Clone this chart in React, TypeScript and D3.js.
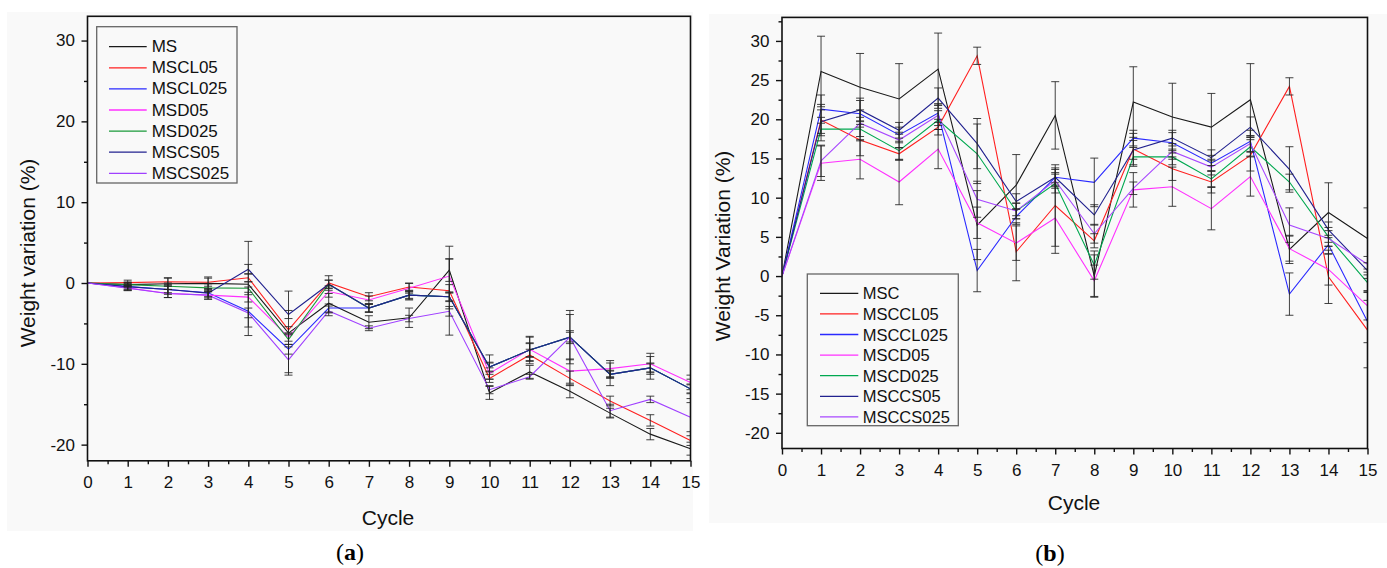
import * as d3 from "d3";
import { useEffect, useRef } from "react";

// cycles on the x axis
const cycles = [0, 1, 2, 3, 4, 5, 6, 7, 8, 9, 10, 11, 12, 13, 14, 15];

// ---- panel (a) ----
const namesA = ["MS", "MSCL05", "MSCL025", "MSD05", "MSD025", "MSCS05", "MSCS025"];
const colorsA = ["#1a1a1a", "#ff2020", "#2a2aff", "#ff30ff", "#1a9a3a", "#22228f", "#a040ff"];

const msA = [0, -0.2, -0.1, -0.05, -0.15, -6.2, -2.5, -4.85, -4.3, 1.6, -13.6, -11.0, -13.4, -16.1, -18.7, -20.5];
const mscl05A = [0, 0.05, 0.15, 0.1, 0.65, -5.8, 0, -1.7, -0.5, -0.95, -11.8, -8.9, -11.8, -14.6, -17.0, -19.5];
const mscl025A = [0, -0.45, -0.8, -1.2, -3.5, -8.2, -3.1, -3.1, -1.5, -1.7, -10.4, -8.3, -6.7, -11.3, -10.5, -13.1];
const msd05A = [0, -0.6, -1.3, -1.5, -1.75, -6.7, -1.05, -2.1, -0.66, 0.86, -11.2, -8.2, -10.9, -10.6, -10.0, -12.3];
const msd025A = [0, -0.2, -0.4, -0.6, -0.65, -7.0, -0.15, -3.1, -1.5, -1.7, -10.4, -8.3, -6.7, -11.3, -10.5, -13.1];
const mscs05A = [0, -0.45, -0.8, -1.25, 1.7, -3.9, -0.15, -3.1, -1.5, -1.7, -10.4, -8.3, -6.7, -11.3, -10.5, -13.1];
const mscs025A = [0, -0.65, -1.3, -1.5, -3.7, -9.5, -3.45, -5.6, -4.4, -3.5, -13.2, -11.6, -6.7, -15.8, -14.4, -16.6];

const msErrA = [0, 0.3, 0.7, 0.8, 5.3, 5.2, 1.2, 0.8, 1.2, 1.4, 0.8, 0.8, 0.8, 0.6, 0.7, 0.8];
const mscl05ErrA = [0, 0.3, 0.5, 0.5, 0.5, 0.4, 0.9, 0.5, 0.5, 5.5, 0.5, 0.7, 0.9, 0.6, 0.7, 0.6];
const mscl025ErrA = [0, 0.4, 0.6, 0.5, 3.0, 0.6, 0.5, 0.5, 0.4, 0.5, 0.5, 0.8, 0.6, 0.4, 0.5, 0.5];
const msd05ErrA = [0, 0.3, 0.5, 0.5, 0.6, 0.5, 0.7, 0.5, 0.6, 2.1, 0.7, 1.5, 1.5, 1.0, 1.3, 0.9];
const msd025ErrA = [0, 0.3, 0.4, 0.5, 0.8, 0.6, 0.5, 0.5, 0.5, 0.6, 0.6, 0.9, 0.8, 0.5, 0.6, 0.6];
const mscs05ErrA = [0, 0.3, 0.4, 0.5, 0.6, 0.5, 0.5, 0.5, 0.6, 1.5, 1.5, 1.7, 2.8, 1.4, 1.4, 1.2];
const mscs025ErrA = [0, 0.3, 0.5, 0.5, 0.6, 1.6, 0.6, 0.3, 0.4, 0.6, 0.5, 0.3, 3.3, 0.8, 0.4, 1.8];

// ---- panel (b) ----
const namesB = ["MSC", "MSCCL05", "MSCCL025", "MSCD05", "MSCD025", "MSCCS05", "MSCCS025"];
const colorsB = ["#1a1a1a", "#ff2020", "#2a2aff", "#ff30ff", "#00a850", "#22228f", "#a848ff"];

const mscB = [0, 26.1, 24.1, 22.6, 26.4, 6.5, 11.6, 20.5, 0.0, 22.2, 20.3, 19.0, 22.5, 3.4, 8.1, 4.8];
const msccl05B = [0, 19.9, 17.35, 15.6, 19.0, 28.1, 3.1, 9.0, 4.5, 16.2, 13.7, 12.0, 15.4, 24.2, -0.1, -6.9];
const msccl025B = [0, 21.3, 20.7, 18.0, 20.8, 0.7, 7.6, 12.6, 11.95, 17.6, 17.0, 14.4, 17.2, -2.3, 4.0, -5.8];
const mscd05B = [0, 14.4, 14.9, 12.0, 16.2, 6.8, 4.2, 7.4, -0.6, 11.0, 11.4, 8.6, 12.7, 3.5, 0.85, -3.8];
const mscd025B = [0, 18.75, 18.75, 16.0, 19.9, 15.6, 8.3, 11.8, 1.4, 15.2, 15.2, 12.4, 16.5, 12.0, 5.0, -0.85];
const msccs05B = [0, 19.7, 21.2, 18.6, 22.7, 16.9, 9.5, 12.6, 7.8, 16.1, 17.6, 15.1, 19.0, 13.6, 5.9, 0.7];
const msccs025B = [0, 14.7, 19.5, 17.35, 20.5, 9.8, 8.3, 12.2, 5.4, 11.2, 15.9, 13.9, 16.9, 6.5, 4.8, 1.5];

const mscErrB = [0, 4.5, 4.3, 4.5, 4.6, 4.4, 3.9, 4.3, 2.7, 4.5, 4.3, 4.3, 4.6, 1.8, 3.8, 3.9];
const msccl05ErrB = [0, 2.0, 2.0, 0.8, 1.0, 1.1, 3.7, 5.2, 0.9, 2.0, 1.5, 1.4, 2.0, 1.1, 3.4, 4.8];
const msccl025ErrB = [0, 1.8, 1.7, 1.0, 1.2, 2.7, 1.0, 1.0, 3.1, 1.0, 1.3, 1.0, 1.4, 2.7, 1.2, 2.7];
const mscd05ErrB = [0, 2.2, 2.5, 2.9, 2.5, 2.0, 2.2, 4.5, 2.0, 2.2, 2.5, 2.7, 2.5, 1.6, 2.0, 1.8];
const mscd025ErrB = [0, 1.5, 1.5, 1.2, 1.2, 3.8, 1.0, 1.2, 1.8, 1.2, 1.0, 1.0, 1.2, 1.0, 1.2, 1.0];
const msccs05ErrB = [0, 1.5, 1.5, 1.0, 1.3, 3.2, 1.0, 1.2, 1.3, 1.2, 1.0, 1.0, 1.3, 2.9, 1.0, 1.0];
const msccs025ErrB = [0, 2.0, 1.7, 1.0, 1.3, 2.3, 1.0, 1.0, 1.2, 0.8, 1.0, 1.0, 1.0, 2.2, 1.0, 1.0];

const yTicksA = [-20, -10, 0, 10, 20, 30];
const yTicksB = [-20, -15, -10, -5, 0, 5, 10, 15, 20, 25, 30];

const valuesA = [msA, mscl05A, mscl025A, msd05A, msd025A, mscs05A, mscs025A];
const errorsA = [msErrA, mscl05ErrA, mscl025ErrA, msd05ErrA, msd025ErrA, mscs05ErrA, mscs025ErrA];
const valuesB = [mscB, msccl05B, msccl025B, mscd05B, mscd025B, msccs05B, msccs025B];
const errorsB = [mscErrB, msccl05ErrB, msccl025ErrB, mscd05ErrB, mscd025ErrB, msccs05ErrB, msccs025ErrB];

const FONT = "'Liberation Sans', Arial, sans-serif";

const panels = [
    {
        id: "a",
        names: namesA, colors: colorsA, values: valuesA, errors: errorsA,
        yTicks: yTicksA, yMinorStep: 5,
        bg: { x: 7, y: 12, w: 686, h: 519 },
        plot: { left: 87.5, right: 690.5, top: 16.3, bottom: 460.8 },
        yTitle: "Weight variation (%)", yTitlePos: [27, 253],
        xTitlePos: [388, 517],
        tag: "a", tagPos: [350, 552],
        legend: { x: 96.7, y: 26.7, w: 140.3, h: 156.3, y0: 46.7, step: 21.1, lx0: 109, lx1: 146.7, tx: 151.7, fs: 17 },
    },
    {
        id: "b",
        names: namesB, colors: colorsB, values: valuesB, errors: errorsB,
        yTicks: yTicksB, yMinorStep: 2.5,
        bg: { x: 709, y: 14, w: 678, h: 509 },
        plot: { left: 782, right: 1367.5, top: 17.4, bottom: 448.5 },
        yTitle: "Weight Variation (%)", yTitlePos: [722, 246],
        xTitlePos: [1074, 502],
        tag: "b", tagPos: [1050, 553],
        legend: { x: 807.3, y: 274, w: 151, h: 151.7, y0: 293.3, step: 20.6, lx0: 820, lx1: 858.3, tx: 862.7, fs: 16.5 },
    },
];

const drawPanel = (svg, p) => {
    const g = svg.append("g");

    g.append("rect")
        .attr("x", p.bg.x).attr("y", p.bg.y)
        .attr("width", p.bg.w).attr("height", p.bg.h)
        .attr("fill", "#f9f9f9");

    const x = d3.scaleLinear().domain([0, 15]).range([p.plot.left, p.plot.right]);
    const y = d3.scaleLinear().domain([-22, 33]).range([p.plot.bottom, p.plot.top]);

    const clipId = "clip-" + p.id;
    svg.append("clipPath").attr("id", clipId)
        .append("rect")
        .attr("x", p.plot.left).attr("y", p.plot.top)
        .attr("width", p.plot.right - p.plot.left)
        .attr("height", p.plot.bottom - p.plot.top);

    const plotG = g.append("g").attr("clip-path", `url(#${clipId})`);

    const line = d3.line()
        .x((d, i) => x(cycles[i]))
        .y(d => y(d));

    p.values.forEach((vals, k) => {
        plotG.append("path")
            .datum(vals)
            .attr("d", line)
            .attr("fill", "none")
            .attr("stroke", p.colors[k])
            .attr("stroke-width", 1.1);
    });

    // error bars
    const cap = 4;
    p.values.forEach((vals, k) => {
        const errs = p.errors[k];
        const eg = plotG.append("g")
            .attr("stroke", "#222")
            .attr("stroke-width", 1)
            .attr("stroke-opacity", 0.85);
        vals.forEach((v, i) => {
            const e = errs[i];
            if (!e) return;
            const cx = x(cycles[i]);
            eg.append("line").attr("x1", cx).attr("x2", cx).attr("y1", y(v - e)).attr("y2", y(v + e));
            eg.append("line").attr("x1", cx - cap).attr("x2", cx + cap).attr("y1", y(v + e)).attr("y2", y(v + e));
            eg.append("line").attr("x1", cx - cap).attr("x2", cx + cap).attr("y1", y(v - e)).attr("y2", y(v - e));
        });
    });

    // axes
    const plain = d => String(d);
    const yMinor = d3.range(-20, 33, p.yMinorStep).filter(t => !p.yTicks.includes(t));
    const yAxis = g.append("g")
        .attr("transform", `translate(${p.plot.left},0)`)
        .call(d3.axisLeft(y).tickValues(p.yTicks).tickSize(6).tickPadding(6.5).tickFormat(plain));
    const yAxisMinor = g.append("g")
        .attr("transform", `translate(${p.plot.left},0)`)
        .call(d3.axisLeft(y).tickValues(yMinor).tickSize(3.5).tickFormat(() => ""));

    const xMinor = d3.range(0.5, 15, 1);
    const xAxis = g.append("g")
        .attr("transform", `translate(0,${p.plot.bottom})`)
        .call(d3.axisBottom(x).tickValues(cycles).tickSize(6).tickPadding(9).tickFormat(plain));
    const xAxisMinor = g.append("g")
        .attr("transform", `translate(0,${p.plot.bottom})`)
        .call(d3.axisBottom(x).tickValues(xMinor).tickSize(3.5).tickFormat(() => ""));

    [yAxis, yAxisMinor, xAxis, xAxisMinor].forEach(a => {
        a.select(".domain").remove();
        a.selectAll(".tick line").attr("stroke", "#111").attr("stroke-width", 1.4);
        a.selectAll(".tick text")
            .attr("fill", "#111")
            .style("font-family", FONT)
            .style("font-size", "17px");
    });

    g.append("rect")
        .attr("x", p.plot.left).attr("y", p.plot.top)
        .attr("width", p.plot.right - p.plot.left)
        .attr("height", p.plot.bottom - p.plot.top)
        .attr("fill", "none")
        .attr("stroke", "#111")
        .attr("stroke-width", 1.6);

    // titles
    g.append("text")
        .attr("transform", `translate(${p.yTitlePos[0]},${p.yTitlePos[1]}) rotate(-90)`)
        .attr("text-anchor", "middle")
        .attr("dominant-baseline", "central")
        .style("font-family", FONT)
        .style("font-size", "21px")
        .attr("fill", "#111")
        .text(p.yTitle);

    g.append("text")
        .attr("x", p.xTitlePos[0]).attr("y", p.xTitlePos[1])
        .attr("text-anchor", "middle")
        .attr("dominant-baseline", "central")
        .style("font-family", FONT)
        .style("font-size", "21px")
        .attr("fill", "#111")
        .text("Cycle");

    const tag = g.append("text")
        .attr("x", p.tagPos[0]).attr("y", p.tagPos[1])
        .attr("text-anchor", "middle")
        .attr("dominant-baseline", "central")
        .style("font-family", "'Liberation Serif', 'DejaVu Serif', serif")
        .style("font-size", "24px")
        .attr("fill", "#000");
    tag.append("tspan").text("(");
    tag.append("tspan").attr("font-weight", "bold").text(p.tag);
    tag.append("tspan").text(")");

    // legend
    const L = p.legend;
    g.append("rect")
        .attr("x", L.x).attr("y", L.y)
        .attr("width", L.w).attr("height", L.h)
        .attr("fill", "#f9f9f9")
        .attr("stroke", "#666")
        .attr("stroke-width", 1.3);
    p.names.forEach((name, k) => {
        const ly = L.y0 + k * L.step;
        g.append("line")
            .attr("x1", L.lx0).attr("x2", L.lx1)
            .attr("y1", ly).attr("y2", ly)
            .attr("stroke", p.colors[k])
            .attr("stroke-width", 1.3);
        g.append("text")
            .attr("x", L.tx).attr("y", ly)
            .attr("dominant-baseline", "central")
            .style("font-family", FONT)
            .style("font-size", L.fs + "px")
            .attr("fill", "#111")
            .text(name);
    });
};

const App = () => {
    const ref = useRef(null);

    useEffect(() => {
        const svg = d3.select(ref.current);
        svg.selectAll("*").remove();
        panels.forEach(p => drawPanel(svg, p));
    }, []);

    return (
        <svg ref={ref} width={1387} height={568}
            style={{ position: "absolute", left: 0, top: 0, background: "#fff" }}></svg>
    );
};

export default App;
